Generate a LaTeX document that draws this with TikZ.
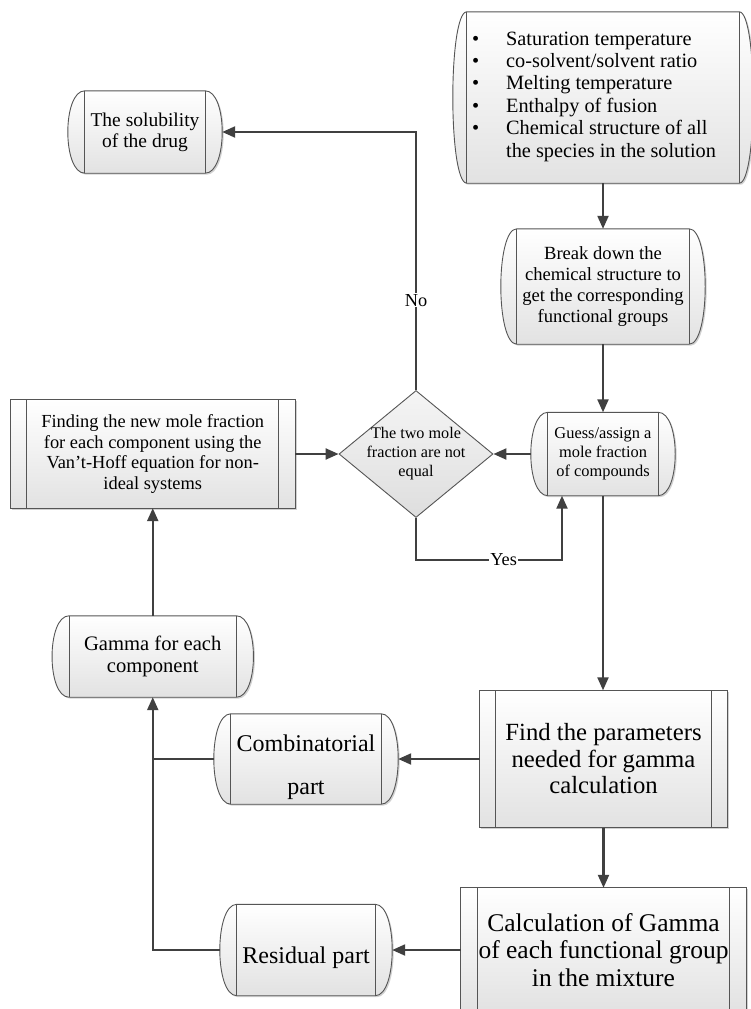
\documentclass[tikz,border=0pt]{standalone}
\usepackage{fontspec}
\setmainfont{Liberation Serif}
\usetikzlibrary{arrows.meta,shapes.geometric,backgrounds}
\definecolor{linec}{HTML}{404040}
\definecolor{edgec}{HTML}{555555}
\definecolor{fillbot}{HTML}{E2E2E2}
\newcommand\myfs[2]{\fontsize{#1}{#2}\selectfont}
\newcommand\bul{\makebox[34pt][l]{•}}
\tikzset{
  boxsh/.style={draw=edgec, line width=0.9pt, top color=white, bottom color=fillbot},
  inln/.style={draw=edgec, line width=0.9pt},
  holder/.style={draw=none, inner sep=0pt, align=center},
  arr/.style={draw=linec, line width=2.2pt, -{Triangle[length=13pt,width=11pt]}},
  wire/.style={draw=linec, line width=2.2pt},
  lab/.style={fill=white, inner sep=1pt, font=\myfs{18.3}{20}},
}
\newcommand\drumpath[2]{([xshift=#2]#1.north west) -- ([xshift=-#2]#1.north east)
  .. controls ([xshift=#2/3]#1.north east) and ([xshift=#2/3]#1.south east) .. ([xshift=-#2]#1.south east)
  -- ([xshift=#2]#1.south west)
  .. controls ([xshift=-#2/3]#1.south west) and ([xshift=-#2/3]#1.north west) .. ([xshift=#2]#1.north west) -- cycle}
\newcommand\drumshape[2]{%
  \path[fill=black!18, transform canvas={shift={(1.5pt,-1.5pt)}}] \drumpath{#1}{#2};
  \path[boxsh] \drumpath{#1}{#2};
  \draw[inln] ([xshift=#2]#1.north west) -- ([xshift=#2]#1.south west)
              ([xshift=-#2]#1.north east) -- ([xshift=-#2]#1.south east);}
\newcommand\procshape[2]{%
  \path[fill=black!18, transform canvas={shift={(1.5pt,-1.5pt)}}] (#1.north west) rectangle (#1.south east);
  \path[boxsh] (#1.north west) rectangle (#1.south east);
  \draw[inln] ([xshift=#2]#1.north west) -- ([xshift=#2]#1.south west)
              ([xshift=-#2]#1.north east) -- ([xshift=-#2]#1.south east);}
\begin{document}
\begin{tikzpicture}[x=1pt, y=-1pt]
\useasboundingbox (0,0) rectangle (751,1009);
% nodes
\node[holder, minimum width=300pt, minimum height=171pt] (inp) at (603,97.5) {};
\node[holder, anchor=west, align=left, font=\myfs{20.3}{22.4}] (inpt) at (472,96.5)
  {\bul Saturation temperature\\
   \bul co-solvent/solvent ratio\\
   \bul Melting temperature\\
   \bul Enthalpy of fusion\\
   \bul Chemical structure of all\\
   \hspace*{34pt}the species in the solution};
\node[holder, minimum width=154pt, minimum height=82pt, font=\myfs{19.5}{21}] (sol) at (145,132) {The solubility\\of the drug};
\node[holder, minimum width=204pt, minimum height=115pt, font=\myfs{18.6}{21}] (brk) at (603,286.5) {Break down the\\chemical structure to\\get the corresponding\\functional groups};
\node[holder, minimum width=144pt, minimum height=83pt, font=\myfs{16.4}{19}] (gue) at (603,454) {Guess/assign a\\mole fraction\\of compounds};
\node[diamond, draw=edgec, line width=0.9pt, top color=black!4, bottom color=black!13, minimum width=154pt, minimum height=127pt, inner sep=0pt] (dia) at (416,454) {};
\node[holder, font=\myfs{16.2}{19}] (diat) at (416,454) {The two mole\\fraction are not\\equal};
\node[holder, minimum width=284.5pt, minimum height=108pt, font=\myfs{18.4}{20.5}] (fin) at (152.75,454) {Finding the new mole fraction\\for each component using the\\Van’t-Hoff equation for non-\\ideal systems};
\node[holder, minimum width=201pt, minimum height=81pt, font=\myfs{20.6}{22}] (gam) at (152.75,656.5) {Gamma for each\\component};
\node[holder, minimum width=184pt, minimum height=90pt] (com) at (306,759) {};
\node[holder, font=\myfs{24}{43}] (comt) at (306,767) {Combinatorial\\part};
\node[holder, minimum width=247pt, minimum height=137pt, font=\myfs{24.7}{26.5}] (par) at (603.5,759) {Find the parameters\\needed for gamma\\calculation};
\node[holder, minimum width=285pt, minimum height=124pt, font=\myfs{25.5}{27.5}] (cal) at (603.5,950) {Calculation of Gamma\\of each functional group\\in the mixture};
\node[holder, minimum width=172pt, minimum height=91pt] (res) at (306,950) {};
\node[holder, font=\myfs{24}{26}] (rest) at (306,958) {Residual part};
% shapes
\begin{pgfonlayer}{background}
\fill[white] (0,0) rectangle (751,1009);
\drumshape{inp}{14pt}
\drumshape{sol}{17pt}
\drumshape{brk}{16pt}
\drumshape{gue}{17pt}
\drumshape{gam}{17pt}
\drumshape{com}{17pt}
\drumshape{res}{17pt}
\procshape{fin}{16.5pt}
\procshape{par}{16pt}
\procshape{cal}{17pt}
\end{pgfonlayer}
% connectors
\draw[arr] (inp.south) -- (brk.north);
\draw[arr] (brk.south) -- (gue.north);
\draw[arr] (gue.west) -- (dia.east);
\draw[arr] (fin.east) -- (dia.west);
\draw[arr] (dia.north) |- node[lab, pos=0.174] {No} (sol.east);
\coordinate (yc) at (562,560);
\draw[arr] (dia.south) |- node[lab, pos=0.8] {Yes} (yc) -- (yc |- gue.south);
\draw[arr] (gue.south) -- (gue.south |- par.north);
\draw[arr] (par.south) -- (cal.north);
\draw[arr] (par.west) -- (com.east);
\draw[arr] (cal.west) -- (res.east);
\draw[wire] (com.west) -- (com.west -| gam.south);
\draw[arr] (res.west) -| (gam.south);
\draw[arr] (gam.north) -- (fin.south);
\end{tikzpicture}
\end{document}
